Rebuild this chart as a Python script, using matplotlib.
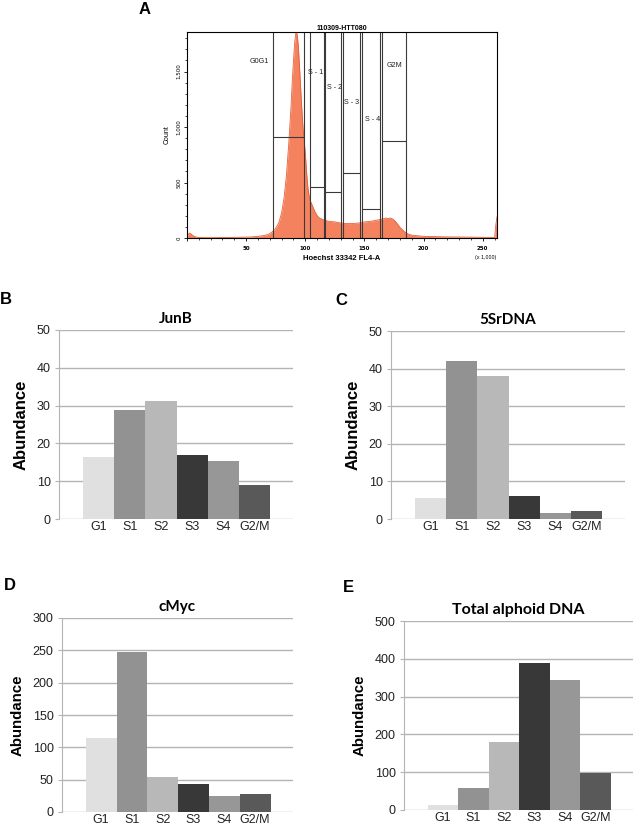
import numpy as np
import matplotlib.pyplot as plt
from matplotlib.ticker import MultipleLocator, FuncFormatter

W, H = 633, 826

# panel A: flow cytometry histogram (x in thousands)
hist_x = [0, 1, 2, 3, 4, 6, 8, 10, 15, 20, 30, 40, 50, 55, 60, 65, 68, 70, 72, 74, 76,
          78, 80, 82, 84, 86, 88, 89, 90, 91, 92, 93, 94, 95, 96, 97, 98, 99, 100,
          101, 102, 103, 104, 106, 108, 110, 112, 115, 118, 120, 125, 130, 135, 140,
          145, 150, 155, 160, 165, 168, 170, 172, 174, 176, 178, 180, 182, 184, 186,
          188, 190, 195, 200, 210, 220, 230, 240, 250, 258, 260, 261, 262]
hist_count = [5, 30, 45, 40, 30, 15, 8, 5, 3, 3, 4, 6, 8, 10, 15, 22, 30, 40, 55, 75, 105,
              150, 230, 360, 560, 850, 1200, 1420, 1600, 1760, 1850, 1840, 1740, 1560, 1360,
              1170, 1000, 880, 760, 600, 470, 390, 340, 290, 240, 200, 180, 165, 155, 150,
              145, 135, 130, 130, 135, 145, 150, 160, 170, 180, 175, 180, 170, 150, 125,
              95, 75, 55, 40, 32, 25, 20, 15, 12, 10, 9, 8, 6, 5, 5, 120, 190]

gate_names = ["G0G1", "S - 1", "S - 2", "S - 3", "S - 4", "G2M"]
gate_left = [72.5, 104, 117, 132, 148.3, 165.2]
gate_right = [99, 115.6, 130.5, 146.6, 163.5, 185]
gate_level = [913, 455, 410, 587, 263, 877]
gate_label_x = [61, 109, 124.5, 139, 157, 175]
gate_label_y = [1590, 1490, 1360, 1220, 1065, 1550]

# panels B-E
phases = ["G1", "S1", "S2", "S3", "S4", "G2/M"]
junb = [16.3, 28.9, 31.2, 16.9, 15.3, 8.9]
rdna5s = [5.6, 42.0, 38.1, 6.2, 1.6, 2.2]
cmyc = [114, 248, 53.5, 43.5, 24.5, 28.3]
alphoid = [13, 59, 179, 389, 344, 97]

bar_colors = ["#e0e0e0", "#929292", "#b8b8b8", "#383838", "#979797", "#595959"]

fig = plt.figure(figsize=(W / 100, H / 100), dpi=100)


def px_axes(l, t, r, b):
    return fig.add_axes([l / W, 1 - b / H, (r - l) / W, (b - t) / H])


# ---- panel A ----
ax = px_axes(187, 32, 497, 238)
ax.fill_between(hist_x, hist_count, color="#f5825f", lw=0)
ax.plot(hist_x, hist_count, color="#e5603a", lw=0.6)
ax.set_xlim(0, 262)
ax.set_ylim(0, 1856)
for l, r, lev in zip(gate_left, gate_right, gate_level):
    ax.vlines([l, r], 0, 1856, color="#3a3a3a", lw=0.8)
    ax.hlines(lev, l, r, color="#3a3a3a", lw=0.8)
for name, gx, gy in zip(gate_names, gate_label_x, gate_label_y):
    ax.text(gx, gy, name, fontsize=5.2, ha="center", va="center",
            family="Liberation Sans", color="#222222")
ax.xaxis.set_major_locator(MultipleLocator(50))
ax.xaxis.set_minor_locator(MultipleLocator(10))
ax.yaxis.set_major_locator(MultipleLocator(500))
ax.yaxis.set_minor_locator(MultipleLocator(100))
ax.xaxis.set_major_formatter(FuncFormatter(lambda v, p: "" if v == 0 else f"{int(v)}"))
ax.yaxis.set_major_formatter(FuncFormatter(lambda v, p: f"{int(v):,}"))
ax.tick_params(axis="x", labelsize=4, length=2, width=0.6, pad=4)
ax.tick_params(axis="y", labelsize=4, length=2, width=0.6, labelrotation=90, pad=2)
ax.tick_params(which="minor", length=1.5, width=0.5)
for t in ax.get_xticklabels():
    t.set_fontweight("bold")
for t in ax.get_yticklabels():
    t.set_va("center")
for s in ax.spines.values():
    s.set_linewidth(0.8)
ax.set_title("110309-HTT080", fontsize=5, fontweight="bold", pad=1,
             family="Liberation Sans")
ax.set_xlabel("Hoechst 33342 FL4-A", fontsize=5.5, fontweight="bold",
              family="Liberation Sans", labelpad=3)
ax.set_ylabel("Count", fontsize=5, family="Liberation Sans", labelpad=4)
fig.text(486 / W, 1 - 258 / H, "(x 1,000)", fontsize=3.8, ha="center",
         va="center", family="Liberation Sans")
fig.text(145 / W, 1 - 9 / H, "A", fontsize=12, fontweight="bold",
         family="Liberation Sans", ha="center", va="center")


# ---- bar panels ----
def bar_panel(box, values, title, ymax, step, lab_size, title_size):
    ax = px_axes(*box)
    ax.bar(range(len(phases)), values, width=1.0, color=bar_colors, zorder=3)
    ax.set_xlim(-1.27, 6.23)
    ax.set_ylim(0, ymax)
    ax.set_yticks(np.arange(0, ymax + 1, step))
    ax.set_xticks(range(len(phases)))
    ax.set_xticklabels(phases)
    ax.yaxis.grid(True, color="#b4b4b4", lw=1.0, zorder=0)
    for s in ["top", "right", "bottom"]:
        ax.spines[s].set_visible(False)
    ax.spines["left"].set_color("#b4b4b4")
    ax.tick_params(axis="x", length=0, pad=1.5, labelsize=9)
    ax.tick_params(axis="y", length=3, color="#b4b4b4", pad=3, labelsize=9)
    for t in ax.get_xticklabels() + ax.get_yticklabels():
        t.set_family("Liberation Sans")
        t.set_color("#222222")
    ax.set_ylabel("Abundance", fontsize=lab_size, fontweight="bold",
                  family="Liberation Sans", labelpad=6)
    ax.set_title(title, fontsize=title_size, fontweight="bold", family="Lato", pad=5)
    return ax


bar_panel((59, 330, 293, 519), junb, "JunB", 50, 10, 12, 11)
bar_panel((391, 331, 625, 519), rdna5s, "5SrDNA", 50, 10, 12, 11)
bar_panel((62, 618, 293, 812), cmyc, "cMyc", 300, 50, 10.8, 11)
bar_panel((404, 621, 633, 810), alphoid, "Total alphoid DNA", 500, 100, 10.8, 11.5)

for lab, x, y in [("B", 6, 300), ("C", 341, 301), ("D", 10, 585), ("E", 348, 587)]:
    fig.text(x / W, 1 - y / H, lab, fontsize=12, fontweight="bold",
             family="Liberation Sans", ha="center", va="center")

fig.savefig("out.png", dpi=100)
